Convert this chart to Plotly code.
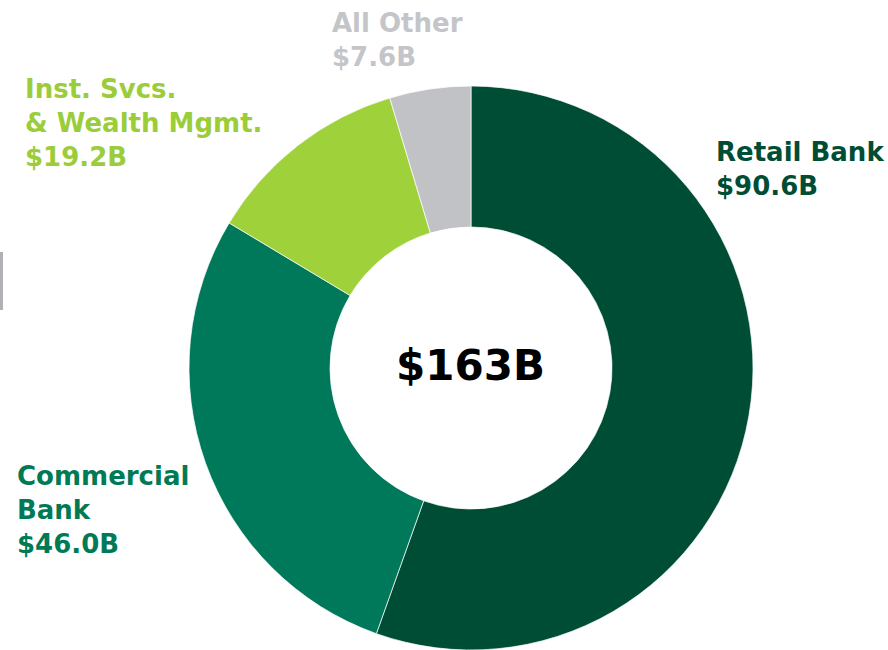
import plotly.graph_objects as go

W, H = 888, 650

segments = ["Retail Bank", "Commercial Bank", "Inst. Svcs. & Wealth Mgmt.", "All Other"]
values = [90.6, 46.0, 19.2, 7.6]
colors = ["#004d36", "#00785a", "#9ed13a", "#c1c2c5"]
label_colors = ["#004d36", "#007a55", "#9bcd3a", "#c4c5c8"]
label_texts = ["Retail Bank<br>$90.6B", "Commercial<br>Bank<br>$46.0B",
               "Inst. Svcs.<br>& Wealth Mgmt.<br>$19.2B", "All Other<br>$7.6B"]
total_label = "$163B"

FONT = "DejaVu Sans"

def px_x(x):
    return x / W

def px_y(y):
    return 1 - y / H

# donut geometry (pixels)
cx, cy, r = 471, 368, 282

fig = go.Figure(go.Pie(
    labels=segments,
    values=values,
    hole=0.5,
    sort=False,
    direction="clockwise",
    rotation=0,
    marker=dict(colors=colors, line=dict(color="white", width=0.7)),
    textinfo="none",
    hoverinfo="label+value",
    domain=dict(x=[px_x(cx - r), px_x(cx + r)], y=[px_y(cy + r), px_y(cy - r)]),
    showlegend=False,
))

label_pos = [(714, 135), (15, 459), (23, 72), (330, 6)]
annotations = []
for txt, col, (lx, ly) in zip(label_texts, label_colors, label_pos):
    annotations.append(dict(
        text=f"<b>{txt}</b>", x=px_x(lx), y=px_y(ly), xref="paper", yref="paper",
        xanchor="left", yanchor="top", align="left", showarrow=False,
        font=dict(family=FONT, size=26, color=col),
    ))
annotations.append(dict(
    text=f"<b>{total_label}</b>", x=px_x(cx), y=px_y(366), xref="paper", yref="paper",
    xanchor="center", yanchor="middle", showarrow=False,
    font=dict(family=FONT, size=42, color="#000000"),
))

fig.update_layout(
    width=W, height=H,
    margin=dict(l=0, r=0, t=0, b=0),
    paper_bgcolor="white", plot_bgcolor="white",
    annotations=annotations,
    shapes=[dict(type="rect", xref="paper", yref="paper",
                 x0=0, x1=px_x(3), y0=px_y(310), y1=px_y(252),
                 fillcolor="#b0b1b5", line=dict(width=0))],
)

fig.write_html("out.html", config={"displayModeBar": False},
               post_script="document.body.style.margin='0';document.body.style.overflow='hidden';")
